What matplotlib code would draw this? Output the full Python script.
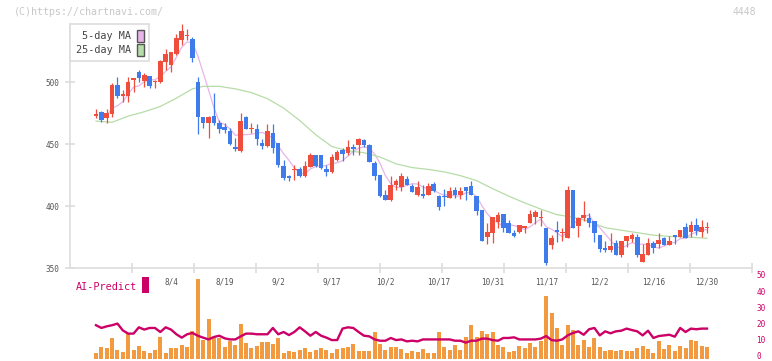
import numpy as np
import pandas as pd
import matplotlib
matplotlib.use('Agg')
import matplotlib.pyplot as plt
from matplotlib.patches import Patch, Rectangle
from matplotlib.transforms import blended_transform_factory, ScaledTranslation

# ---------------- data ----------------
opens = [472.5, 476, 471.2, 474, 497.6, 489, 489, 502, 507.8, 501,
         504.8, 500, 499.7, 516.4, 514, 522.3, 533.8, 537.5, 535, 499.7,
         472, 467.2, 472.6, 467.2, 464, 460.8, 447.9, 444.6, 471.5, 462.4,
         462, 451, 448.7, 459.2, 450.6, 432.3, 424.2, 429, 429.6, 424.2,
         431.7, 441.1, 441.1, 429.9, 427.7, 437, 445.2, 442.5, 447.9, 449.2,
         453.2, 449.2, 435, 425, 408.9, 404.9, 416.9, 415.6, 421.8, 416.1,
         408.9, 409.7, 408.9, 417.8, 408, 408, 406.7, 412.9, 408.9, 415.6,
         416.1, 408, 396.7, 375.2, 378.5, 387.3, 393.5, 386.5, 378.5, 379.3,
         382, 386.5, 391.4, 390, 382.5, 368.5, 380.6, 378.2, 374.4, 412.9,
         383.8, 390, 390.6, 388, 376.6, 366.4, 364.5, 370.5, 360.5, 371.8,
         373.4, 375.3, 355.1, 360.5, 369.9, 369.4, 374, 368.6, 376.6, 374.8,
         383.4, 379.3, 384.7, 379.3, 382.6]
highs = [478, 476.6, 478, 499, 504, 493.5, 504, 503.5, 509.6, 507,
         505, 501.6, 517.5, 527, 524.5, 539, 546.5, 542.7, 536.5, 504,
         472, 472.5, 491, 469.4, 466.7, 462.7, 454.6, 474.8, 472.6, 466.7,
         466.2, 453.8, 466.2, 466.2, 451.1, 437.1, 425, 433, 431.7, 436.6,
         442.5, 441.5, 441.5, 433, 442, 445.2, 446.5, 453.2, 450, 454.8,
         454, 450, 436.3, 425, 412.9, 424.2, 421.5, 426.9, 424.2, 417.5,
         420.4, 417, 418.3, 419.6, 408.9, 413.5, 415, 415, 415, 415.6,
         420.4, 408, 396.7, 386.5, 391.4, 395.4, 393.5, 388.7, 380.6, 384.6,
         383.8, 396.7, 396.7, 396.7, 382.5, 376.6, 388.1, 382.5, 416.4, 412.9,
         391.4, 404.3, 394.1, 388, 376.6, 371.8, 378.5, 372.6, 371.8, 375.8,
         378.5, 377.5, 369.4, 374, 371.8, 378.5, 374.8, 375.8, 376.6, 380.7,
         386.6, 388.2, 390.1, 388.8, 387.4]
lows = [471, 468, 466.6, 472, 487, 483.6, 484, 492, 500, 496,
        495.4, 495.4, 499, 509.6, 507.8, 521.8, 530, 533.8, 516.4, 458,
        462.6, 455, 465, 459.2, 458.6, 449.2, 444.4, 443.8, 461.8, 458.6,
        449.2, 445.7, 447.9, 443, 431.7, 421, 420.4, 421, 423.7, 423.7,
        431.2, 431.5, 430, 424.2, 426.9, 436.6, 436.6, 441.1, 441.1, 441.1,
        447.9, 435.2, 421, 407.5, 404.9, 404, 412.9, 412.4, 416.9, 411.6,
        408.3, 406.7, 408.9, 411.6, 396.8, 400, 406.2, 406.2, 405.4, 404.8,
        408.8, 392.7, 372, 369.3, 370.4, 382, 379.3, 378, 375.2, 377.9,
        378.5, 386, 385.5, 383.8, 352.4, 365, 371.2, 372, 374.4, 382.5,
        375.2, 388, 383.4, 371.3, 363.2, 363.2, 363.2, 360.5, 359.2, 367.2,
        371.3, 359.2, 355.1, 360.5, 362.4, 365.9, 368.6, 368.6, 369.1, 374.8,
        374, 375.3, 376.6, 374.8, 378]
closes = [474, 469.3, 474.7, 497.6, 488.7, 490, 500, 503, 503, 505.6,
          497, 500.5, 517, 522.3, 524.4, 535.7, 541, 538, 519.6, 471.5,
          467, 472, 466.7, 461.8, 461.3, 449.7, 445.7, 468.8, 462.4, 463,
          453.8, 448.7, 460.5, 446.5, 433.1, 422.3, 422.3, 429.5, 424.2, 432.3,
          441.1, 432.5, 430.3, 427.7, 439.8, 443.8, 441.9, 447.9, 446, 453.8,
          449.2, 435.8, 424.5, 408.3, 404.9, 416.9, 420.4, 424.2, 416.9, 411.6,
          415.6, 408.3, 416.1, 412.4, 399.5, 407, 412.4, 408.9, 412.4, 412.3,
          408.8, 396.2, 372, 379.3, 391.4, 392.7, 382.5, 378.5, 376, 384.6,
          383.8, 393.5, 394.9, 390.5, 353.7, 373.9, 379.3, 378.7, 412.9, 382.5,
          390, 392.7, 386, 378.5, 365.4, 364.5, 367.8, 360.5, 371.8, 375.8,
          376.6, 360.5, 361.3, 370.5, 365.9, 372.6, 368.6, 371.8, 374.8, 380.7,
          374, 384.7, 380.1, 383.4, 383]
volume = [3.4, 7.1, 6.5, 12.6, 5.2, 4.0, 14.9, 5.2, 7.7, 4.6,
          3.4, 5.2, 13.3, 3.4, 6.5, 6.5, 8.3, 7.1, 17.0, 49.0,
          11.4, 24.4, 12.6, 12.6, 7.1, 10.8, 8.3, 21.3, 9.6, 6.5,
          7.7, 10.2, 10.2, 9.0, 12.6, 3.4, 4.6, 4.0, 5.2, 6.5,
          4.0, 5.2, 6.5, 5.2, 3.4, 5.9, 6.5, 7.1, 9.0, 4.6,
          4.6, 4.6, 16.3, 9.0, 5.2, 7.1, 7.1, 5.9, 3.1, 4.6,
          4.0, 5.9, 3.1, 3.1, 16.3, 7.1, 5.2, 8.3, 5.2, 13.3,
          20.7, 13.3, 17.0, 15.1, 16.3, 8.3, 7.1, 4.0, 4.6, 7.7,
          6.5, 9.6, 7.1, 10.8, 38.6, 28.1, 18.8, 8.3, 20.7, 17.6,
          8.3, 11.4, 7.1, 12.6, 7.1, 4.6, 5.2, 4.6, 5.2, 4.6,
          4.6, 6.5, 7.7, 5.9, 3.4, 10.8, 5.9, 8.3, 4.6, 7.7,
          6.5, 11.4, 10.8, 7.7, 7.1]
ai_predict = [20.6, 18.9, 19.9, 20.6, 21.6, 17.4, 15.4, 15.4, 19.3, 17.9,
              18.9, 18.9, 16.4, 19.3, 17.9, 15.0, 12.9, 15.0, 15.8, 14.1,
              12.9, 11.8, 13.3, 14.1, 12.5, 11.8, 11.8, 13.7, 15.4, 15.4,
              15.0, 15.0, 15.0, 18.9, 15.0, 16.4, 14.5, 16.4, 19.3, 16.8,
              14.1, 16.4, 14.1, 12.9, 11.4, 11.4, 18.5, 19.3, 18.9, 16.4,
              14.1, 13.7, 11.8, 11.0, 11.0, 12.7, 11.4, 11.8, 10.6, 11.0,
              10.6, 11.8, 11.8, 11.8, 11.8, 11.8, 11.8, 11.0, 11.0, 9.8,
              11.0, 11.0, 12.3, 12.3, 11.4, 11.0, 12.7, 12.7, 13.1, 11.8,
              11.8, 11.8, 11.8, 12.3, 13.9, 11.4, 11.0, 11.8, 14.3, 15.8,
              16.8, 14.7, 18.1, 18.9, 14.3, 16.8, 15.6, 16.8, 17.2, 18.5,
              17.6, 16.8, 14.3, 17.2, 12.7, 13.9, 14.3, 14.7, 13.5, 18.9,
              16.4, 18.5, 18.1, 18.5, 18.5]
ma25_idx = [0, 3, 6, 9, 12, 15, 18, 20, 23, 26, 29, 32, 35, 38, 41, 44, 47,
            50, 53, 56, 59, 62, 65, 68, 71, 74, 77, 80, 83, 86, 89, 92, 95,
            98, 101, 104, 107, 110, 114]
ma25_val = [468.5, 467.5, 472.5, 476, 480.3, 487, 494.5, 496.5, 496.5, 494.5,
            491.5, 486.5, 479, 469, 457.5, 448, 444.5, 443, 439.5, 434, 431,
            429.5, 427.5, 424.5, 420.5, 414, 408, 402.5, 397.5, 393, 391,
            387.5, 382.5, 380.5, 378.5, 376.5, 375.5, 375, 374]
date_labels = ['8/4', '8/19', '9/2', '9/17', '10/2', '10/17', '10/31',
               '11/17', '12/2', '12/16', '12/30']
date_label_idx = [14, 24, 34, 44, 54, 64, 74, 84, 94, 104, 114]
price_ticks = [350, 400, 450, 500]
right_ticks = [0, 10, 20, 30, 40, 50]

# ---------------- style ----------------
UP = '#F04E3C'
DOWN = '#3F7BEA'
MA5_C = '#E8B5E8'
MA25_C = '#B6DCA8'
VOL_C = '#F29A3F'
AI_C = '#CC0066'
GRID_C = '#DDDDDD'
TXT_C = '#555555'
MONO = 'DejaVu Sans Mono'

W, H = 772, 361
fig = plt.figure(figsize=(W / 100, H / 100), dpi=100)


def fr(x0, y0, x1, y1):
    return [x0 / W, 1 - y1 / H, (x1 - x0) / W, (y1 - y0) / H]


ax = fig.add_axes(fr(70, 24, 752, 268))
ax2 = fig.add_axes(fr(70, 277.7, 752, 358.5))

o = np.array(opens)
h = np.array(highs)
l = np.array(lows)
c = np.array(closes)
n = len(c)
idx = np.arange(n)
colors = np.where(c >= o, UP, DOWN)

XL = (-4.85, 122.4)

# moving averages
ma5 = pd.Series(c).rolling(5, min_periods=3).mean()
ax.plot(idx, ma5, color=MA5_C, lw=0.9, zorder=1)
ax.plot(ma25_idx, ma25_val, color=MA25_C, lw=0.9, zorder=1)

# candles
ax.vlines(idx, l, h, colors=colors, lw=0.9, zorder=2)
body_bottom = np.minimum(o, c)
body_h = np.maximum(np.abs(c - o), 0.8)
ax.bar(idx, body_h, bottom=body_bottom, width=0.85, color=colors,
       linewidth=0, zorder=3)

ax.set_xlim(*XL)
ax.set_ylim(350, 546.8)
for s in ['top', 'right']:
    ax.spines[s].set_visible(False)
for s in ['left', 'bottom']:
    ax.spines[s].set_color(GRID_C)
    ax.spines[s].set_linewidth(1.2)
ax.set_yticks(price_ticks)
ax.set_yticklabels([str(t) for t in price_ticks], fontsize=5.5,
                   color=TXT_C, family=MONO)
xt = [XL[0] + k * (XL[1] - XL[0]) / 11 for k in range(1, 12)]
ax.set_xticks(xt)
ax.set_xticklabels([])
ax.tick_params(axis='both', direction='inout', length=7, width=1.2,
               color=GRID_C, pad=4)

leg = ax.legend(handles=[Patch(facecolor=MA5_C, edgecolor='#555555', lw=1.0),
                         Patch(facecolor=MA25_C, edgecolor='#555555', lw=1.0)],
                labels=['5-day MA', '25-day MA'], loc='upper left',
                markerfirst=False, handlelength=0.65, handleheight=1.45,
                handletextpad=0.65, labelspacing=0.2, borderpad=0.55,
                borderaxespad=0, fancybox=False, framealpha=1,
                edgecolor=GRID_C, prop={'family': MONO, 'size': 7.3})
leg.get_frame().set_linewidth(1.2)
for t in leg.get_texts():
    t.set_color('#444444')

# lower panel
ax2.bar(idx, volume, width=0.75, color=VOL_C, linewidth=0, zorder=1)
ax2.plot(idx, ai_predict, color=AI_C, lw=1.7, zorder=2)
ax2.set_xlim(*XL)
ax2.set_ylim(0, 50)
for s in ax2.spines.values():
    s.set_visible(False)
ax2.set_xticks([])
ax2.set_yticks([])

rtr = blended_transform_factory(ax2.transAxes, ax2.transData) + \
    ScaledTranslation(3 / 72, 1.3 / 72, fig.dpi_scale_trans)
for t in right_ticks:
    ax2.text(1.0, t, str(t), transform=rtr, ha='left', va='center',
             fontsize=5.5, color=AI_C, family=MONO)

tr = blended_transform_factory(ax2.transData, ax2.transAxes)
for lbl, k in zip(date_labels, date_label_idx):
    ax2.text(k, 0.947, lbl, transform=tr, ha='center', va='center',
             fontsize=5.5, color=TXT_C, family=MONO)

fig.text(76 / W, 1 - 286.5 / H, 'AI-Predict', ha='left', va='center',
         fontsize=7.3, color=AI_C, family=MONO)
fig.patches.append(Rectangle((142 / W, 1 - 293 / H), 7 / W, 16 / H,
                             transform=fig.transFigure, facecolor=AI_C,
                             edgecolor='none'))

fig.text(14 / W, 1 - 12 / H, '(C)https://chartnavi.com/', ha='left',
         va='center', fontsize=7.2, color='#C8C8C8', family=MONO)
fig.text(756 / W, 1 - 12 / H, '4448', ha='right', va='center',
         fontsize=7.0, color='#C8C8C8', family=MONO)

fig.savefig('out.png', dpi=100, facecolor='white')
